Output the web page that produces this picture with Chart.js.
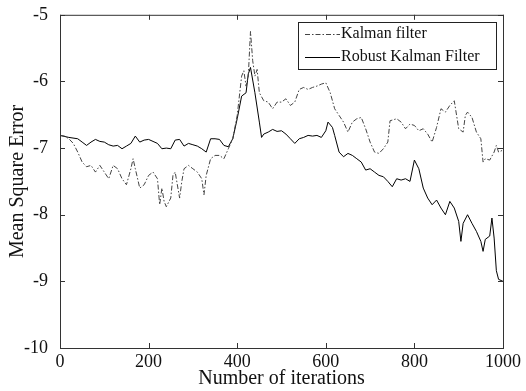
<!DOCTYPE html>
<html>
<head>
<meta charset="utf-8">
<script src="https://cdn.jsdelivr.net/npm/chart.js@4/dist/chart.umd.min.js"></script>
<style>
  html, body { margin: 0; padding: 0; background: #fff; }
  #wrap { width: 526px; height: 391px; position: relative; }
</style>
</head>
<body>
<div id="wrap"><canvas id="mse-chart"></canvas></div>
<script>
// ─── DATA ─────────────────────────────────────────────────
const kfIter = [0,10,20,30,40,50,60,70,80,90,100,110,120,130,140,150,160,165,170,180,190,200,210,220,225,230,235,240,250,255,260,270,275,280,290,300,310,320,325,330,340,350,360,370,380,390,400,410,415,420,425,430,435,440,445,450,460,470,480,490,500,510,520,530,540,550,560,570,580,590,600,610,620,630,640,650,660,670,680,690,700,710,720,730,740,745,760,770,780,790,800,810,820,830,840,850,860,870,880,890,900,910,915,920,930,940,950,955,960,970,980,985,990,1000];
const kfMse = [-6.81,-6.82,-6.86,-6.93,-7.06,-7.21,-7.28,-7.26,-7.36,-7.26,-7.36,-7.46,-7.26,-7.31,-7.46,-7.55,-7.31,-7.16,-7.31,-7.60,-7.55,-7.41,-7.36,-7.46,-7.85,-7.60,-7.80,-7.88,-7.75,-7.41,-7.36,-7.75,-7.50,-7.31,-7.26,-7.31,-7.36,-7.46,-7.70,-7.41,-7.16,-7.11,-7.11,-7.16,-7.01,-6.86,-6.51,-5.92,-5.84,-6.07,-5.92,-5.25,-5.69,-5.92,-5.82,-6.17,-6.29,-6.31,-6.41,-6.31,-6.31,-6.26,-6.36,-6.31,-6.12,-6.09,-6.12,-6.09,-6.07,-6.04,-6.02,-6.17,-6.41,-6.51,-6.61,-6.76,-6.61,-6.56,-6.54,-6.71,-6.91,-7.06,-7.08,-7.01,-6.91,-6.59,-6.56,-6.61,-6.71,-6.64,-6.66,-6.74,-6.71,-6.79,-6.91,-6.69,-6.41,-6.46,-6.36,-6.29,-6.71,-6.76,-6.51,-6.46,-6.54,-6.76,-6.86,-7.21,-7.16,-7.18,-7.06,-6.96,-7.06,-7.03];

const rkfIter = [0,20,40,50,60,70,80,90,100,110,120,130,140,150,160,170,180,190,200,210,220,230,240,250,260,270,280,290,300,310,320,330,340,350,360,370,380,390,400,410,420,425,430,440,450,455,460,470,480,490,500,510,520,530,540,550,560,570,580,590,600,605,615,620,630,640,650,660,670,680,690,700,710,720,730,740,750,760,770,780,790,800,810,820,830,840,850,860,870,880,890,900,905,910,920,930,940,950,955,960,970,975,980,985,990,1000];
const rkfMse = [-6.81,-6.84,-6.86,-6.91,-6.96,-6.91,-6.87,-6.90,-6.91,-6.95,-6.97,-6.96,-7.01,-6.97,-6.93,-6.82,-6.91,-6.88,-6.87,-6.90,-6.93,-7.01,-7.00,-7.01,-6.88,-6.87,-6.97,-6.93,-6.95,-6.97,-7.01,-7.06,-6.86,-6.86,-6.87,-6.96,-6.98,-6.86,-6.56,-6.22,-6.17,-5.89,-5.79,-6.17,-6.61,-6.84,-6.79,-6.76,-6.72,-6.75,-6.74,-6.79,-6.86,-6.93,-6.86,-6.84,-6.81,-6.82,-6.81,-6.84,-6.74,-6.61,-6.69,-6.81,-7.06,-7.13,-7.08,-7.11,-7.16,-7.21,-7.33,-7.31,-7.36,-7.41,-7.43,-7.50,-7.58,-7.46,-7.48,-7.46,-7.50,-7.18,-7.31,-7.60,-7.75,-7.85,-7.78,-7.90,-8.00,-7.80,-7.90,-8.10,-8.40,-8.13,-8.00,-8.13,-8.25,-8.40,-8.55,-8.37,-8.32,-8.05,-8.35,-8.84,-8.97,-9.00];

const seriesNames = ['Kalman filter', 'Robust Kalman Filter'];
const xTicks = [0, 200, 400, 600, 800, 1000];
const yTicks = [-10, -9, -8, -7, -6, -5];

const FONT = "'Liberation Serif', 'Times New Roman', serif";
const pairs = (xs, ys) => xs.map((x, i) => ({ x, y: ys[i] }));

// box + inward ticks + legend, MATLAB style
const matlabFrame = {
    id: 'matlabFrame',
    afterDraw(chart) {
        const { ctx, chartArea: a, scales: { x, y } } = chart;
        ctx.save();
        ctx.strokeStyle = '#333';
        ctx.lineWidth = 1;
        ctx.strokeRect(a.left + 0.5, a.top + 0.5, a.right - a.left, a.bottom - a.top);
        const t = 5;
        ctx.beginPath();
        xTicks.forEach(v => {
            const px = Math.round(x.getPixelForValue(v)) + 0.5;
            ctx.moveTo(px, a.bottom); ctx.lineTo(px, a.bottom - t);
            ctx.moveTo(px, a.top); ctx.lineTo(px, a.top + t);
        });
        yTicks.forEach(v => {
            const py = Math.round(y.getPixelForValue(v)) + 0.5;
            ctx.moveTo(a.left, py); ctx.lineTo(a.left + t, py);
            ctx.moveTo(a.right, py); ctx.lineTo(a.right - t, py);
        });
        ctx.stroke();

        // legend box
        const lx = 298, ly = 22, lw = 198, lh = 47;
        ctx.fillStyle = '#fff';
        ctx.fillRect(lx, ly, lw, lh);
        ctx.strokeStyle = '#222';
        ctx.strokeRect(lx + 0.5, ly + 0.5, lw, lh);
        ctx.font = '16px ' + FONT;
        ctx.textBaseline = 'middle';
        chart.data.datasets.forEach((ds, i) => {
            const yy = ly + 12 + i * 23;
            ctx.strokeStyle = ds.borderColor;
            ctx.setLineDash(ds.borderDash || []);
            ctx.beginPath();
            ctx.moveTo(lx + 7, yy + 0.5); ctx.lineTo(lx + 42, yy + 0.5);
            ctx.stroke();
            ctx.setLineDash([]);
            ctx.fillStyle = '#111';
            ctx.fillText(ds.label, lx + 43, yy);
        });
        ctx.restore();
    }
};

new Chart(document.getElementById('mse-chart'), {
    type: 'line',
    data: {
        datasets: [{
            label: seriesNames[0],
            data: pairs(kfIter, kfMse),
            borderColor: '#444', borderWidth: 1, borderDash: [5, 2, 1.5, 2],
            pointRadius: 0, tension: 0, fill: false,
        }, {
            label: seriesNames[1],
            data: pairs(rkfIter, rkfMse),
            borderColor: '#000', borderWidth: 1,
            pointRadius: 0, tension: 0, fill: false,
        }]
    },
    options: {
        responsive: true, maintainAspectRatio: false, animation: false,
        layout: { padding: { top: 12, right: 23, left: 0, bottom: 0 } },
        plugins: { legend: { display: false }, tooltip: { enabled: false } },
        scales: {
            x: {
                type: 'linear', min: 0, max: 1000,
                afterFit: s => { s.height = 43; },
                afterBuildTicks: s => { s.ticks = xTicks.map(v => ({ value: v })); },
                grid: { display: false }, border: { display: false },
                ticks: { font: { family: FONT, size: 18 }, color: '#111', padding: -5, maxRotation: 0, callback: v => String(v) },
                title: { display: true, text: 'Number of iterations', font: { family: FONT, size: 20 }, color: '#111', padding: { top: -6, bottom: 0 } },
            },
            y: {
                min: -10, max: -5,
                afterFit: s => { s.width = 60; },
                afterBuildTicks: s => { s.ticks = yTicks.map(v => ({ value: v })); },
                grid: { display: false }, border: { display: false },
                ticks: { font: { family: FONT, size: 18 }, color: '#111', padding: 4, callback: v => String(v) },
                title: { display: true, text: 'Mean Square Error', font: { family: FONT, size: 20 }, color: '#111', padding: { top: 6, bottom: 0 } },
            }
        }
    },
    plugins: [matlabFrame]
});
</script>
</body>
</html>
